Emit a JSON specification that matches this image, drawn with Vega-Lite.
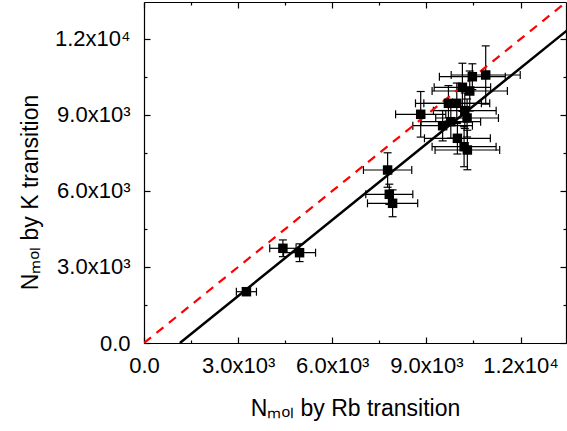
{
  "$schema": "https://vega.github.io/schema/vega-lite/v6.json",
  "width": 422,
  "height": 341,
  "autosize": "none",
  "padding": {"left": 144, "top": 2, "right": 1, "bottom": 88},
  "config": {
    "view": {"stroke": null},
    "font": "Liberation Sans",
    "axis": {
      "domainColor": "black",
      "domainWidth": 1.2,
      "tickColor": "black",
      "tickWidth": 1.2,
      "grid": false,
      "labelColor": "black",
      "labelFont": "Liberation Sans",
      "labelFontSize": 22,
      "titleFont": "Liberation Sans",
      "titleFontSize": 23,
      "titleFontWeight": "normal",
      "titleColor": "black",
      "labelFlush": false,
      "labelOverlap": false
    }
  },
  "datasets": {
    "pts": [
      {"rb": 3264, "k": 2025, "rbErr": 320, "kErr": 130},
      {"rb": 4427, "k": 3738, "rbErr": 420, "kErr": 330},
      {"rb": 4958, "k": 3564, "rbErr": 510, "kErr": 350},
      {"rb": 7764, "k": 6828, "rbErr": 770, "kErr": 680},
      {"rb": 7818, "k": 5869, "rbErr": 750, "kErr": 400},
      {"rb": 7923, "k": 5514, "rbErr": 800, "kErr": 530},
      {"rb": 8819, "k": 9027, "rbErr": 800, "kErr": 900},
      {"rb": 9518, "k": 8577, "rbErr": 950, "kErr": 600},
      {"rb": 9703, "k": 9461, "rbErr": 1050, "kErr": 700},
      {"rb": 9779, "k": 8735, "rbErr": 950, "kErr": 650},
      {"rb": 9969, "k": 9461, "rbErr": 1050, "kErr": 800},
      {"rb": 9989, "k": 8080, "rbErr": 1050, "kErr": 620},
      {"rb": 10148, "k": 10093, "rbErr": 900, "kErr": 950},
      {"rb": 10224, "k": 9169, "rbErr": 1000, "kErr": 700},
      {"rb": 10297, "k": 8881, "rbErr": 1000, "kErr": 750},
      {"rb": 10202, "k": 7748, "rbErr": 1020, "kErr": 790},
      {"rb": 10306, "k": 7618, "rbErr": 1030, "kErr": 780},
      {"rb": 10382, "k": 9946, "rbErr": 1200, "kErr": 790},
      {"rb": 10465, "k": 10511, "rbErr": 1050, "kErr": 510},
      {"rb": 10891, "k": 10578, "rbErr": 1100, "kErr": 1150}
    ],
    "ident": [{"rb": 0, "k": 0}, {"rb": 13500, "k": 13500}],
    "fit": [{"rb": 1144, "k": 0}, {"rb": 13500, "k": 12356}]
  },
  "layer": [
    {
      "data": {"name": "pts"},
      "mark": {"type": "errorbar", "ticks": {"size": 8, "thickness": 1.2, "color": "black", "opacity": 1}, "rule": {"color": "black", "opacity": 1, "strokeWidth": 1.2}, "color": "black", "thickness": 1.2},
      "encoding": {
        "x": {"field": "rb", "type": "quantitative", "scale": {"domain": [0, 13450], "nice": false, "zero": false}, "axis": null},
        "xError": {"field": "rbErr"},
        "y": {"field": "k", "type": "quantitative", "scale": {"domain": [0, 13460], "nice": false, "zero": false}, "axis": null}
      }
    },
    {
      "data": {"name": "pts"},
      "mark": {"type": "errorbar", "ticks": {"size": 8, "thickness": 1.2, "color": "black", "opacity": 1}, "rule": {"color": "black", "opacity": 1, "strokeWidth": 1.2}, "color": "black", "thickness": 1.2},
      "encoding": {
        "x": {"field": "rb", "type": "quantitative", "scale": {"domain": [0, 13450], "nice": false, "zero": false}, "axis": null},
        "y": {"field": "k", "type": "quantitative", "scale": {"domain": [0, 13460], "nice": false, "zero": false}, "axis": null},
        "yError": {"field": "kErr"}
      }
    },
    {
      "data": {"name": "ident"},
      "mark": {"type": "line", "color": "#ff0000", "strokeWidth": 2.2, "strokeDash": [9, 7], "clip": true},
      "encoding": {
        "x": {"field": "rb", "type": "quantitative", "scale": {"domain": [0, 13450], "nice": false, "zero": false},
          "axis": {"orient": "top", "title": null, "labels": false, "values": [0, 1500, 3000, 4500, 6000, 7500, 9000, 10500, 12000],
            "tickSize": {"condition": {"test": "datum.value % 3000 == 0", "value": -6}, "value": -3}}},
        "y": {"field": "k", "type": "quantitative", "scale": {"domain": [0, 13460], "nice": false, "zero": false},
          "axis": {"orient": "right", "title": null, "labels": false, "values": [0, 1500, 3000, 4500, 6000, 7500, 9000, 10500, 12000],
            "tickSize": {"condition": {"test": "datum.value % 3000 == 0", "value": -6}, "value": -3}}}
      }
    },
    {
      "data": {"name": "fit"},
      "mark": {"type": "line", "color": "black", "strokeWidth": 2.5, "clip": true},
      "encoding": {
        "x": {"field": "rb", "type": "quantitative", "scale": {"domain": [0, 13450], "nice": false, "zero": false}, "axis": null},
        "y": {"field": "k", "type": "quantitative", "scale": {"domain": [0, 13460], "nice": false, "zero": false}, "axis": null}
      }
    },
    {
      "data": {"name": "pts"},
      "mark": {"type": "square", "color": "black", "opacity": 1, "size": 90},
      "encoding": {
        "x": {"field": "rb", "type": "quantitative", "scale": {"domain": [0, 13450], "nice": false, "zero": false},
          "axis": {"orient": "bottom", "title": "Nₘₒₗ by Rb transition", "values": [0, 1500, 3000, 4500, 6000, 7500, 9000, 10500, 12000],
            "labelExpr": "datum.value == 0 ? '0.0' : datum.value == 3000 ? '3.0x10³' : datum.value == 6000 ? '6.0x10³' : datum.value == 9000 ? '9.0x10³' : datum.value == 12000 ? '1.2x10⁴' : ''",
            "tickSize": {"condition": {"test": "datum.value % 3000 == 0", "value": -6}, "value": -3},
            "labelPadding": 18, "titlePadding": 18}},
        "y": {"field": "k", "type": "quantitative", "scale": {"domain": [0, 13460], "nice": false, "zero": false},
          "axis": {"orient": "left", "title": "Nₘₒₗ by K transition", "values": [0, 1500, 3000, 4500, 6000, 7500, 9000, 10500, 12000],
            "labelExpr": "datum.value == 0 ? '0.0' : datum.value == 3000 ? '3.0x10³' : datum.value == 6000 ? '6.0x10³' : datum.value == 9000 ? '9.0x10³' : datum.value == 12000 ? '1.2x10⁴' : ''",
            "tickSize": {"condition": {"test": "datum.value % 3000 == 0", "value": -6}, "value": -3},
            "labelPadding": 20, "titlePadding": 12, "titleY": 190}}
      }
    }
  ],
  "resolve": {"axis": {"x": "independent", "y": "independent"}}
}
